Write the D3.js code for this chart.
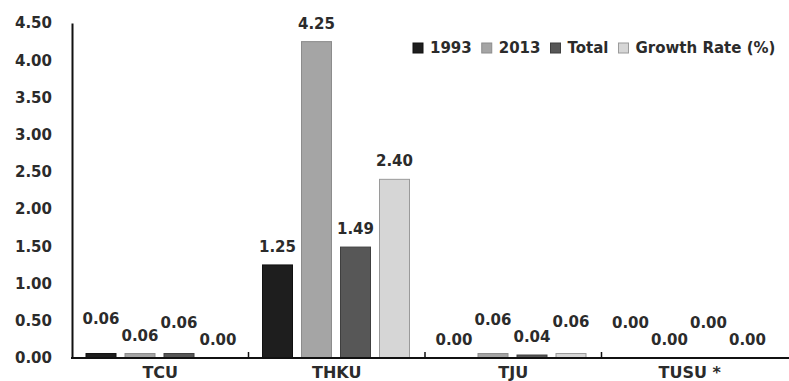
<!DOCTYPE html>
<html><head><meta charset="utf-8">
<script src="https://cdn.jsdelivr.net/npm/d3@7/dist/d3.min.js"></script>
<style>body{margin:0;background:#fff}svg{display:block}text{font-family:"DejaVu Sans",sans-serif;font-weight:bold;fill:#2b2b2b}</style>
</head><body><svg id="c" width="789" height="381"></svg>
<script>
const categories = ["TCU", "THKU", "TJU", "TUSU *"];
const seriesNames = ["1993", "2013", "Total", "Growth Rate (%)"];
const v1993   = [0.06, 1.25, 0.00, 0.00];
const v2013   = [0.06, 4.25, 0.06, 0.00];
const vTotal  = [0.06, 1.49, 0.04, 0.00];
const vGrowth = [0.00, 2.40, 0.06, 0.00];
const yTicks = [0, 0.5, 1, 1.5, 2, 2.5, 3, 3.5, 4, 4.5];

// label lift (layout only, px) to stagger overlapping small-value labels
const labelLift = [[17,0,13,0],[0,0,0,0],[0,16,0,14],[17,0,17,0]];

const series = [v1993, v2013, vTotal, vGrowth];
const fills = ["#1e1e1e", "#a5a5a5", "#575757", "#d6d6d6"];
const strokes = ["#111", "#8c8c8c", "#3f3f3f", "#9a9a9a"];

const svg = d3.select("#c");
const x0 = d3.scaleBand().domain(categories).range([72, 778]);
const x1 = d3.scaleBand().domain(seriesNames).range([14, 161]).paddingInner(9/39).paddingOuter(0);
const y = d3.scaleLinear().domain([0, 4.5]).range([358, 23]);

// y axis
const yAxis = svg.append("g").attr("transform", "translate(72,0)")
  .call(d3.axisLeft(y).tickValues(yTicks).tickFormat(d3.format(".2f")).tickSize(0).tickPadding(20));
yAxis.select(".domain").attr("stroke", "#111").attr("stroke-width", 2);
yAxis.selectAll("text").style("font-size", "15px").attr("fill", "#2b2b2b");

// bars
const g = svg.append("g");
categories.forEach((c, ci) => {
  seriesNames.forEach((s, si) => {
    const val = series[si][ci];
    const bx = x0(c) + x1(s);
    const top = y(val);
    g.append("rect").attr("x", bx).attr("y", top).attr("width", x1.bandwidth())
      .attr("height", Math.max(0, y(0) - top)).attr("fill", fills[si])
      .attr("stroke", strokes[si]).attr("stroke-width", 1);
    g.append("text").attr("x", bx + x1.bandwidth()/2).attr("y", top - 13 - labelLift[ci][si])
      .attr("text-anchor", "middle").style("font-size", "15px")
      .text(d3.format(".2f")(val));
  });
});

// x axis
const xAxis = svg.append("g").attr("transform", "translate(0,358)");
xAxis.append("line").attr("x1", 71).attr("x2", 789).attr("y1", 0).attr("y2", 0)
  .attr("stroke", "#111").attr("stroke-width", 2);
categories.slice(1).forEach(c => {
  xAxis.append("line").attr("x1", x0(c)).attr("x2", x0(c)).attr("y1", 0).attr("y2", -6)
    .attr("stroke", "#111").attr("stroke-width", 1.5);
});
categories.forEach(c => {
  xAxis.append("text").attr("x", x0(c) + x0.bandwidth()/2).attr("y", 20)
    .attr("text-anchor", "middle").style("font-size", "16px").text(c);
});

// legend
const leg = svg.append("g").attr("transform", "translate(413,48)");
let lx = 0;
seriesNames.forEach((s, si) => {
  leg.append("rect").attr("x", lx).attr("y", -5).attr("width", 10).attr("height", 10)
    .attr("fill", fills[si]).attr("stroke", strokes[si]).attr("stroke-width", 1);
  const t = leg.append("text").attr("x", lx + 17).attr("y", 5).style("font-size", "15px").text(s);
  lx += 17 + t.node().getComputedTextLength() + 10;
});
</script></body></html>
